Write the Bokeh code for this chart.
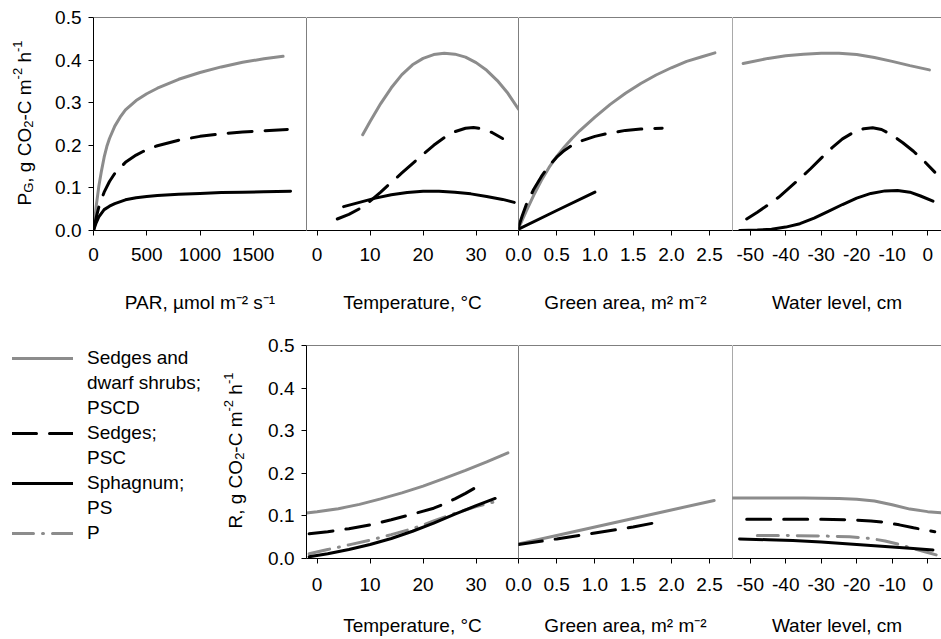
import math
from bokeh.plotting import figure
from bokeh.layouts import column, row
from bokeh.models import (Span, Label, Legend, LegendItem, FixedTicker,
                          PrintfTickFormatter, Range1d)
from bokeh.embed import file_html
from bokeh.resources import INLINE

# ---------------- data ----------------
# Top row: gross photosynthesis P_G
par_pscd_x = [0, 25, 50, 75, 100, 125, 150, 200, 250, 300, 400, 500, 600, 800, 1000, 1200, 1400, 1600, 1780]
par_pscd_y = [0, 0.056, 0.104, 0.14, 0.172, 0.197, 0.216, 0.245, 0.266, 0.283, 0.305, 0.321, 0.334, 0.355, 0.371, 0.384, 0.395, 0.403, 0.409]
par_psc_x = [0, 25, 50, 100, 150, 200, 300, 400, 500, 600, 800, 1000, 1200, 1400, 1600, 1820]
par_psc_y = [0, 0.03, 0.055, 0.09, 0.115, 0.134, 0.16, 0.177, 0.19, 0.199, 0.212, 0.221, 0.227, 0.231, 0.234, 0.237]
par_ps_x = [0, 25, 50, 100, 150, 200, 300, 400, 500, 600, 800, 1000, 1200, 1400, 1600, 1850]
par_ps_y = [0, 0.018, 0.032, 0.049, 0.057, 0.063, 0.072, 0.077, 0.08, 0.082, 0.085, 0.087, 0.089, 0.09, 0.091, 0.092]

tg_pscd_x = [8.6, 10, 12, 14, 16, 18, 20, 22, 24, 26, 28, 30, 32, 34, 36, 38]
tg_pscd_y = [0.225, 0.256, 0.298, 0.335, 0.366, 0.389, 0.404, 0.413, 0.416, 0.414, 0.407, 0.394, 0.376, 0.352, 0.322, 0.285]
tg_psc_x = [3.8, 6, 8, 10, 12, 14, 16, 18, 20, 22, 24, 26, 28, 29.5, 31, 33, 35]
tg_psc_y = [0.027, 0.038, 0.051, 0.069, 0.09, 0.113, 0.135, 0.157, 0.179, 0.2, 0.218, 0.232, 0.24, 0.242, 0.239, 0.23, 0.216]
tg_ps_x = [5, 8, 11, 14, 17, 20, 23, 26, 29, 32, 35, 37.2]
tg_ps_y = [0.056, 0.066, 0.076, 0.084, 0.089, 0.092, 0.092, 0.09, 0.086, 0.08, 0.073, 0.066]

ga_pscd_x = [0, 0.1, 0.2, 0.3, 0.4, 0.5, 0.6, 0.7, 0.8, 1.0, 1.2, 1.4, 1.6, 1.8, 2.0, 2.2, 2.4, 2.57]
ga_pscd_y = [0.005, 0.045, 0.083, 0.118, 0.148, 0.174, 0.196, 0.216, 0.234, 0.266, 0.296, 0.322, 0.345, 0.365, 0.382, 0.397, 0.408, 0.417]
ga_psc_x = [0, 0.05, 0.1, 0.2, 0.3, 0.4, 0.5, 0.6, 0.7, 0.8, 1.0, 1.2, 1.4, 1.6, 1.88]
ga_psc_y = [0.008, 0.035, 0.06, 0.097, 0.127, 0.152, 0.172, 0.188, 0.2, 0.209, 0.221, 0.229, 0.235, 0.238, 0.24]
ga_ps_x = [0, 0.5, 1.0]
ga_ps_y = [0.003, 0.047, 0.09]

wl_pscd_x = [-52, -45, -40, -35, -30, -25, -20, -15, -10, -5, 0.5]
wl_pscd_y = [0.392, 0.404, 0.41, 0.414, 0.416, 0.416, 0.413, 0.406, 0.397, 0.387, 0.377]
wl_psc_x = [-51, -48, -45, -42, -39, -36, -33, -30, -27, -24, -21, -18, -15.5, -13, -10, -7, -4, -1, 2]
wl_psc_y = [0.027, 0.043, 0.06, 0.078, 0.1, 0.122, 0.145, 0.17, 0.194, 0.215, 0.23, 0.239, 0.241, 0.237, 0.224, 0.206, 0.186, 0.163, 0.137]
wl_ps_x = [-53, -48, -44, -40, -36, -32, -28, -24, -20, -16, -12, -8.5, -5, -2, 1.5]
wl_ps_y = [0.0, 0.001, 0.003, 0.008, 0.016, 0.029, 0.045, 0.061, 0.076, 0.087, 0.093, 0.094, 0.09, 0.081, 0.069]

# Bottom row: respiration R
tr_pscd_x = [-2, 0, 4, 8, 12, 16, 20, 24, 28, 32, 36]
tr_pscd_y = [0.107, 0.11, 0.117, 0.127, 0.14, 0.154, 0.17, 0.188, 0.207, 0.227, 0.248]
tr_psc_x = [-1.5, 2, 6, 10, 14, 18, 22, 24, 26, 28, 30, 31.5]
tr_psc_y = [0.058, 0.063, 0.07, 0.079, 0.091, 0.104, 0.118, 0.128, 0.14, 0.153, 0.167, 0.178]
tr_ps_x = [-1.5, 2, 6, 10, 14, 18, 22, 26, 30, 33.6]
tr_ps_y = [0.004, 0.011, 0.021, 0.033, 0.047, 0.064, 0.083, 0.104, 0.124, 0.141]
tr_p_x = [-1.5, 2, 6, 10, 14, 18, 22, 26, 30, 33.5]
tr_p_y = [0.011, 0.021, 0.032, 0.043, 0.056, 0.07, 0.088, 0.106, 0.122, 0.133]

gr_pscd_x = [0, 0.5, 1.0, 1.5, 2.0, 2.56]
gr_pscd_y = [0.034, 0.054, 0.074, 0.094, 0.114, 0.136]
gr_psc_x = [0, 0.5, 1.0, 1.5, 1.82]
gr_psc_y = [0.033, 0.046, 0.06, 0.074, 0.085]

wr_pscd_x = [-55, -45, -35, -25, -20, -15, -10, -5, 0, 4]
wr_pscd_y = [0.142, 0.142, 0.142, 0.141, 0.139, 0.135, 0.126, 0.116, 0.11, 0.107]
wr_psc_x = [-51, -40, -30, -22, -16, -12, -8, -4, 0, 2]
wr_psc_y = [0.092, 0.092, 0.092, 0.091, 0.088, 0.085, 0.079, 0.072, 0.066, 0.063]
wr_ps_x = [-53, -45, -38, -30, -20, -10, -5, 1.5]
wr_ps_y = [0.046, 0.044, 0.042, 0.039, 0.033, 0.027, 0.024, 0.02]
wr_p_x = [-48, -40, -30, -22, -16, -12, -8, -4, 0, 3]
wr_p_y = [0.054, 0.054, 0.053, 0.051, 0.047, 0.041, 0.033, 0.023, 0.014, 0.007]

y_ticks = [0.0, 0.1, 0.2, 0.3, 0.4, 0.5]
par_ticks = [0, 500, 1000, 1500]
temp_ticks = [0, 10, 20, 30]
ga_ticks = [0.0, 0.5, 1.0, 1.5, 2.0, 2.5]
wl_ticks = [-50, -40, -30, -20, -10, 0]

legend_rows = ["Sedges and", "dwarf shrubs;", "PSCD", "Sedges;", "PSC", "Sphagnum;", "PS", "P"]
legend_keys = ["pscd", None, None, "psc", None, "ps", None, "p"]

# ---------------- styling ----------------
FONT = "Liberation Sans"
FS = 19
SUB = 13
GRAY = "#8c8c8c"
FH = 213
YR = (0, 0.5)

STY = {
    "pscd": dict(line_color=GRAY, line_width=3, line_cap="round"),
    "psc": dict(line_color="black", line_width=3, line_dash="24 13", line_cap="round"),
    "ps": dict(line_color="black", line_width=3, line_cap="round"),
    "p": dict(line_color=GRAY, line_width=3, line_dash="21 9 1 9", line_cap="round"),
    None: dict(line_color="white", line_alpha=0, line_width=1),
}

AW = {"P": 667, "G": 778, "R": 722, ",": 278, " ": 278, "g": 556, "C": 722, "O": 778,
      "2": 556, "-": 333, "m": 833, "h": 556, "1": 556}


def tw(s, size):
    return sum(AW.get(c, 556) for c in s) / 1000.0 * size


def make_fig(xr, fw, left, top, bottom, ticks, fmt, xlabel, first, divider,
             tick_standoff, lab_standoff, overlap=0):
    p = figure(frame_width=fw, frame_height=FH, x_range=Range1d(*xr), y_range=Range1d(*YR),
               output_backend="svg", toolbar_location=None,
               min_border_left=left + overlap, min_border_right=0, min_border_top=top,
               min_border_bottom=bottom)
    if overlap:
        # let the canvas reach under the previous panel so the first tick label is centred
        p.margin = (0, 0, 0, -overlap)
        p.border_fill_color = None
    p.outline_line_color = None
    p.xgrid.visible = False
    p.ygrid.visible = False
    ax = p.xaxis[0]
    ax.ticker = FixedTicker(ticks=ticks)
    ax.formatter = PrintfTickFormatter(format=fmt)
    ax.major_tick_out = 5
    ax.major_tick_in = 0
    ax.minor_tick_line_color = None
    ax.axis_line_color = "black"
    ax.major_tick_line_color = "black"
    ax.major_label_text_font = FONT
    ax.major_label_text_font_size = f"{FS}px"
    ax.major_label_text_color = "black"
    ax.major_label_standoff = tick_standoff
    ax.axis_label = xlabel
    ax.axis_label_text_font = FONT
    ax.axis_label_text_font_size = f"{FS}px"
    ax.axis_label_text_font_style = "normal"
    ax.axis_label_text_color = "black"
    ax.axis_label_standoff = lab_standoff
    if first:
        ay = p.yaxis[0]
        ay.ticker = FixedTicker(ticks=y_ticks)
        ay.formatter = PrintfTickFormatter(format="%.1f")
        ay.major_tick_out = 5
        ay.major_tick_in = 0
        ay.minor_tick_line_color = None
        ay.axis_line_color = "black"
        ay.major_label_text_font = FONT
        ay.major_label_text_font_size = f"{FS}px"
        ay.major_label_text_color = "black"
        ay.major_label_standoff = 7
    else:
        p.yaxis.visible = False
        p.add_layout(Span(location=xr[0], dimension="height", line_color=divider, line_width=1))
    p.add_layout(Span(location=YR[1], dimension="width", line_color="black", line_width=1))
    return p


def blank_fig(w, top, bottom):
    """A figure without axes, with the same frame height and borders as its row;
    its ranges are pixels of the frame (origin at the frame's bottom-left)."""
    p = figure(frame_width=w, frame_height=FH, x_range=Range1d(0, w), y_range=Range1d(0, FH),
               x_axis_type=None, y_axis_type=None, output_backend="svg",
               toolbar_location=None, min_border=0,
               min_border_left=0, min_border_right=0, min_border_top=top,
               min_border_bottom=bottom)
    p.outline_line_color = None
    p.grid.visible = False
    return p


def vlabel(p, pieces, bx, by):
    """Rotated axis title with sub/superscripts; bx = baseline x, by = start y (pixels)."""
    pos = by
    for text, kind in pieces:
        size = FS if kind == "n" else SUB
        shift = {"n": 0, "sub": 4, "sup": -7}[kind]
        if text.startswith(" "):
            pos += tw(" ", size)
            text = text.lstrip(" ")
        p.add_layout(Label(x=bx + shift, y=pos, text=text, angle=math.pi / 2,
                           text_align="left", text_baseline="alphabetic",
                           text_font=FONT, text_font_size=f"{size}px", text_color="black"))
        pos += tw(text, size)


# ---------------- top row ----------------
TT, TB = 17, 95
xr1, xr2, xr3, xr4 = (0, 2000), (-2, 38), (0, 2.8), (-55, 3.9)
lab_top = blank_fig(40, TT, TB)
t1 = make_fig(xr1, 213, 53, TT, TB, par_ticks, "%d", "PAR, µmol m⁻² s⁻¹", True, "black", 12, 28)
t2 = make_fig(xr2, 212, 0, TT, TB, temp_ticks, "%d", "Temperature, °C", False, "black", 12, 28)
t3 = make_fig(xr3, 214, 0, TT, TB, ga_ticks, "%.1f", "Green area, m² m⁻²", False, "black", 12, 28, overlap=14)
t4 = make_fig(xr4, 209, 0, TT, TB, wl_ticks, "%d", "Water level, cm", False, "#555555", 12, 28)

t1.line(par_pscd_x, par_pscd_y, **STY["pscd"])
t1.line(par_psc_x, par_psc_y, **STY["psc"])
t1.line(par_ps_x, par_ps_y, **STY["ps"])
t2.line(tg_pscd_x, tg_pscd_y, **STY["pscd"])
t2.line(tg_psc_x, tg_psc_y, **STY["psc"])
t2.line(tg_ps_x, tg_ps_y, **STY["ps"])
t3.line(ga_pscd_x, ga_pscd_y, **STY["pscd"])
t3.line(ga_psc_x, ga_psc_y, **STY["psc"])
t3.line(ga_ps_x, ga_ps_y, **STY["ps"])
t4.line(wl_pscd_x, wl_pscd_y, **STY["pscd"])
t4.line(wl_psc_x, wl_psc_y, **STY["psc"])
t4.line(wl_ps_x, wl_ps_y, **STY["ps"])

# frame bottom of the top row is at page y = 230; the title starts at y = 205
vlabel(lab_top, [("P", "n"), ("G", "sub"), (", g CO", "n"), ("2", "sub"), ("-C m", "n"),
                 ("-2", "sup"), (" h", "n"), ("-1", "sup")], 23.5, 25)

# ---------------- bottom row ----------------
BT, BB = 20, 81
leg_fig = blank_fig(250, BT, BB)
b1 = make_fig(xr2, 212, 56, BT, BB, temp_ticks, "%d", "Temperature, °C", True, "black", 14, 21)
b2 = make_fig(xr3, 214, 0, BT, BB, ga_ticks, "%.1f", "Green area, m² m⁻²", False, "black", 14, 21, overlap=14)
b3 = make_fig(xr4, 209, 0, BT, BB, wl_ticks, "%d", "Water level, cm", False, "#555555", 14, 21)

b1.line(tr_pscd_x, tr_pscd_y, **STY["pscd"])
b1.line(tr_psc_x, tr_psc_y, **STY["psc"])
b1.line(tr_p_x, tr_p_y, **STY["p"])
b1.line(tr_ps_x, tr_ps_y, **STY["ps"])
b2.line(gr_pscd_x, gr_pscd_y, **STY["pscd"])
b2.line(gr_psc_x, gr_psc_y, **STY["psc"])
b3.line(wr_pscd_x, wr_pscd_y, **STY["pscd"])
b3.line(wr_psc_x, wr_psc_y, **STY["psc"])
b3.line(wr_p_x, wr_p_y, **STY["p"])
b3.line(wr_ps_x, wr_ps_y, **STY["ps"])

# legend keys: hidden copies of the series (the legend only uses their style)
key_data = {"pscd": (tr_pscd_x, tr_pscd_y), "psc": (tr_psc_x, tr_psc_y),
            "ps": (tr_ps_x, tr_ps_y), "p": (tr_p_x, tr_p_y), None: (tr_ps_x, tr_ps_y)}
keys = {}
for k, (kx, ky) in key_data.items():
    r = leg_fig.line(kx, ky, **STY[k])
    r.visible = False
    keys[k] = r
items = [LegendItem(label=lab, renderers=[keys[k]]) for lab, k in zip(legend_rows, legend_keys)]
n = len(items)
leg_h = n * 22 + (n - 1) * 3
# frame of the bottom row spans page y 345..558; legend top at page y 347
legend = Legend(items=items, location=(12, FH - 2 - leg_h), orientation="vertical",
                glyph_width=61, glyph_height=22, label_height=22, label_standoff=14,
                spacing=3, padding=0, margin=0, border_line_color=None,
                background_fill_alpha=0, inactive_fill_alpha=0, label_text_font=FONT,
                label_text_font_size=f"{FS}px", label_text_color="black")
leg_fig.add_layout(legend)

vlabel(leg_fig, [("R", "n"), (", g CO", "n"), ("2", "sub"), ("-C m", "n"),
                 ("-2", "sup"), (" h", "n"), ("-1", "sup")], 235, 30)

layout = column(row(lab_top, t1, t2, t3, t4), row(leg_fig, b1, b2, b3))
open("out.html", "w").write(file_html(layout, INLINE))
